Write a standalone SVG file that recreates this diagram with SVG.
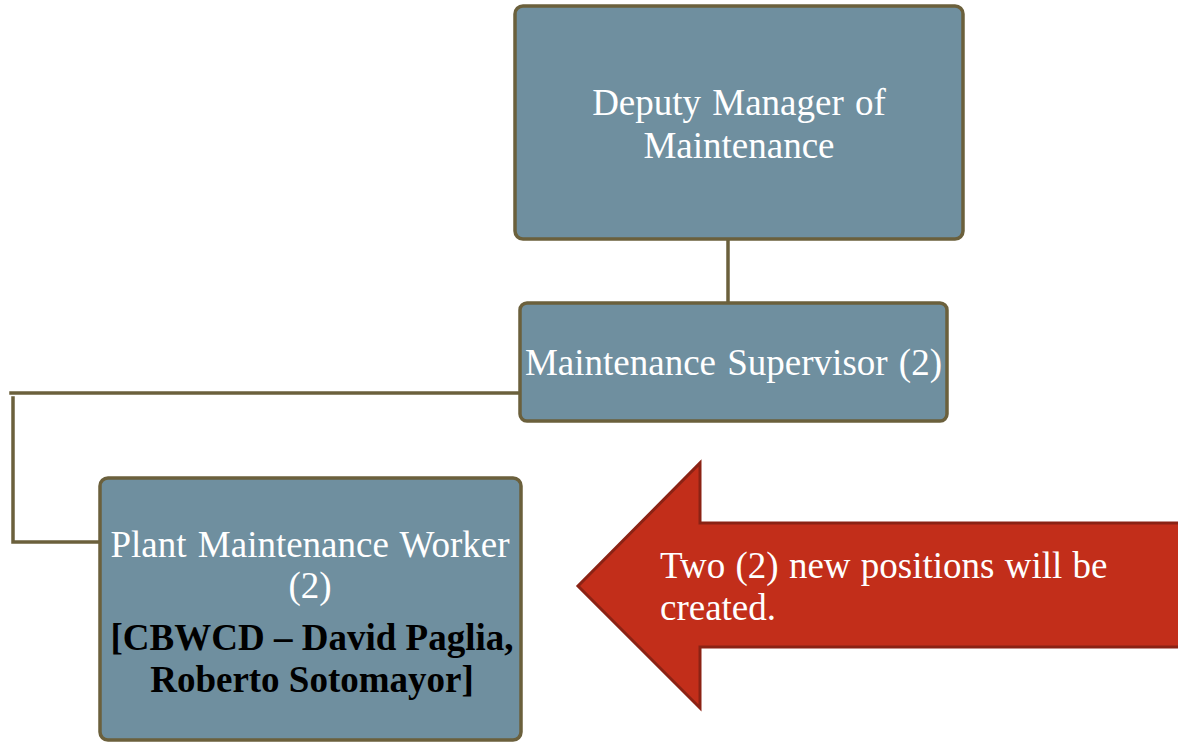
<svg xmlns="http://www.w3.org/2000/svg" width="1178" height="742" viewBox="0 0 1178 742">
<style>
.box{fill:#6f8f9f;stroke:#6b603c;stroke-width:3.5}
.conn{fill:none;stroke:#6b603c;stroke-width:3.5;stroke-linecap:square}
.t{font-family:"Liberation Serif","Times New Roman",serif;font-size:37px;fill:#ffffff}
.c{text-anchor:middle}
.b{font-weight:bold;fill:#000000}
</style>
<rect width="1178" height="742" fill="#ffffff"/>
<g id="connectors">
<path class="conn" d="M728 240 V302"/>
<path class="conn" d="M11 393 H520"/>
<path class="conn" d="M13 398 V542 H100"/>
</g>
<g id="deputy">
<rect class="box" x="515" y="6" width="448" height="233" rx="8"/>
<text class="t c" x="739" y="115" word-spacing="2">Deputy Manager of</text>
<text class="t c" x="739" y="158">Maintenance</text>
</g>
<g id="supervisor">
<rect class="box" x="520" y="303" width="427" height="118" rx="7"/>
<text class="t c" x="733.5" y="375" word-spacing="2">Maintenance Supervisor (2)</text>
</g>
<g id="worker">
<rect class="box" x="100" y="478" width="421" height="262" rx="8"/>
<text class="t c" x="310" y="557" word-spacing="2">Plant Maintenance Worker</text>
<text class="t c" x="310" y="598">(2)</text>
<text class="t c b" x="312" y="650">[CBWCD – David Paglia,</text>
<text class="t c b" x="312" y="692">Roberto Sotomayor]</text>
</g>
<g id="callout">
<path d="M1180 523 H700 V463 L578 586 L700 708 V647 H1180" fill="#c22e1a" stroke="#8b2214" stroke-width="3"/>
<text class="t" x="660" y="578" word-spacing="1">Two (2) new positions will be</text>
<text class="t" x="660" y="620">created.</text>
</g>
</svg>
